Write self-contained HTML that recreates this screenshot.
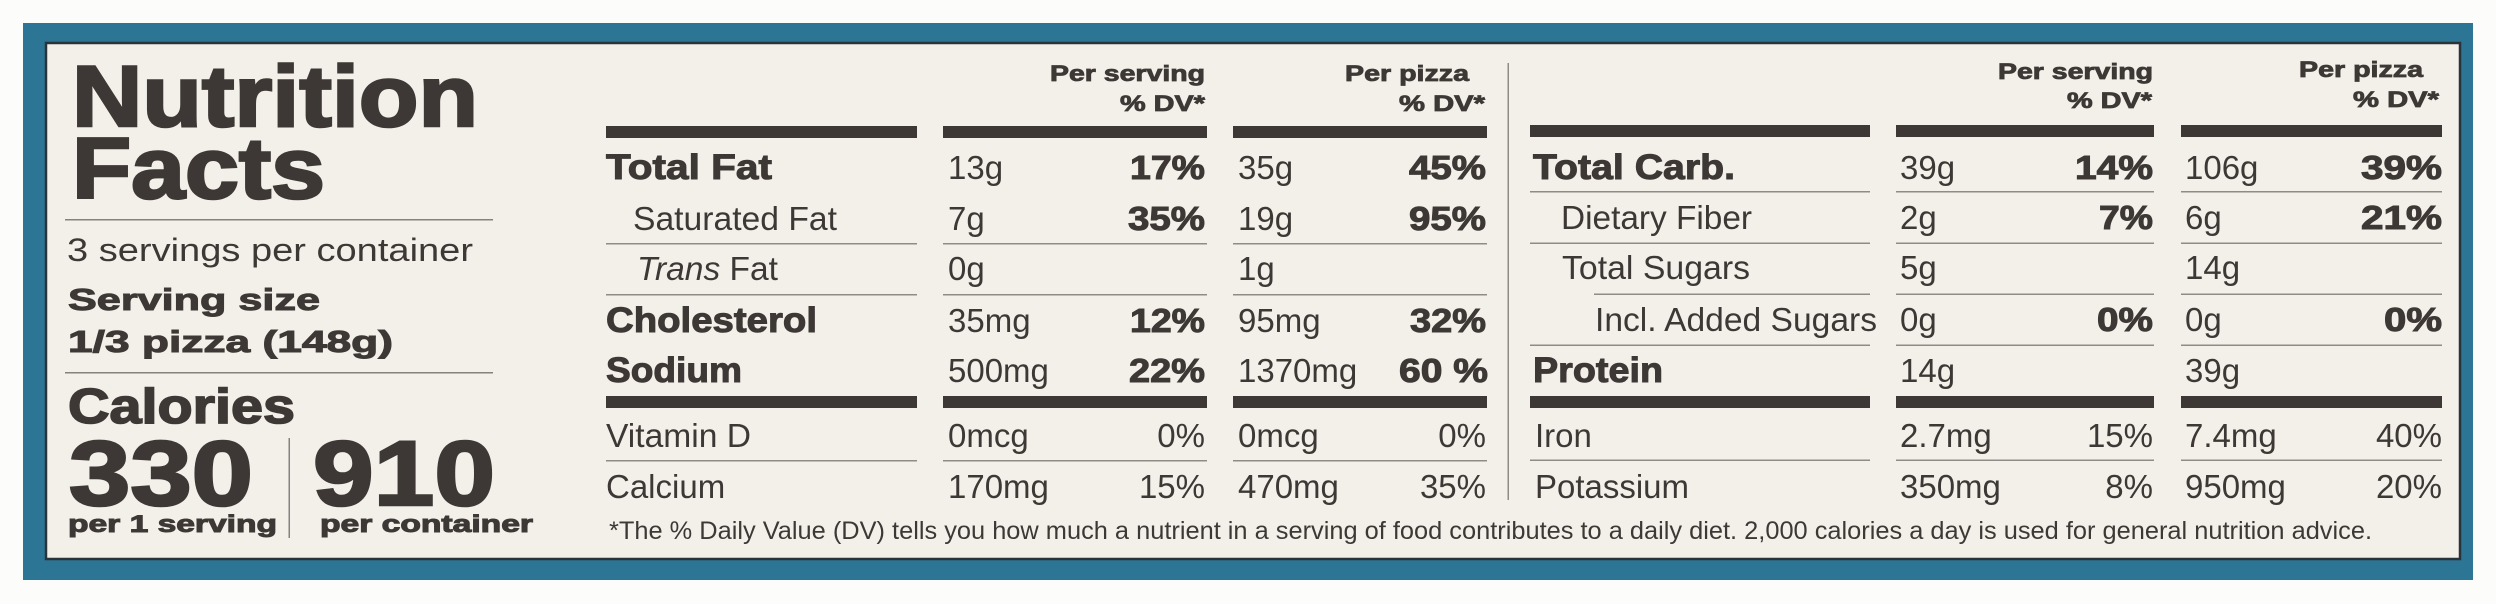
<!DOCTYPE html>
<html>
<head>
<meta charset="utf-8">
<style>
html,body{margin:0;padding:0;background:#fcfcfb;}
svg{display:block;}
text{font-family:"Liberation Sans",Arial,sans-serif;fill:#3d3835;}
.b{font-weight:bold;stroke:#3d3835;stroke-width:1;}
.bb{font-weight:bold;stroke:#3d3835;stroke-width:2.6;}
.bm{font-weight:bold;stroke:#3d3835;stroke-width:1.6;}
.r{font-size:33px;}
.v{font-size:33px;}
.p{font-size:33px;}
.h{font-size:22px;font-weight:bold;stroke:#3d3835;stroke-width:0.8;}
</style>
</head>
<body>
<svg width="2496" height="604" viewBox="0 0 2496 604" xmlns="http://www.w3.org/2000/svg">
  <rect x="0" y="0" width="2496" height="604" fill="#fcfcfb"/>
  <rect x="23" y="23" width="2450" height="557" fill="#2c7594"/>
  <rect x="46" y="43" width="2414" height="516" fill="#f3f0ea" stroke="#2a3338" stroke-width="2.5"/>

  <!-- LEFT PANEL -->
  <text class="bb" x="72" y="126" font-size="86" textLength="406" lengthAdjust="spacingAndGlyphs">Nutrition</text>
  <text class="bb" x="72" y="198" font-size="86" textLength="253" lengthAdjust="spacingAndGlyphs">Facts</text>
  <rect x="65" y="219" width="428" height="1.5" fill="#85817d"/>
  <text x="67" y="261" font-size="32" textLength="406" lengthAdjust="spacingAndGlyphs">3 servings per container</text>
  <text class="b" x="68" y="310" font-size="31" textLength="252" lengthAdjust="spacingAndGlyphs">Serving size</text>
  <text class="b" x="68" y="352" font-size="31" textLength="325" lengthAdjust="spacingAndGlyphs">1/3 pizza (148g)</text>
  <rect x="65" y="372" width="428" height="1.5" fill="#85817d"/>
  <text class="bm" x="68" y="423" font-size="49" textLength="227" lengthAdjust="spacingAndGlyphs">Calories</text>
  <text class="bb" x="69" y="505" font-size="92" textLength="184" lengthAdjust="spacingAndGlyphs">330</text>
  <text class="bb" x="313" y="505" font-size="92" textLength="182" lengthAdjust="spacingAndGlyphs">910</text>
  <rect x="288.5" y="438" width="1.5" height="100" fill="#85817d"/>
  <text class="b" x="68" y="532" font-size="24" textLength="209" lengthAdjust="spacingAndGlyphs">per 1 serving</text>
  <text class="b" x="320" y="532" font-size="24" textLength="213" lengthAdjust="spacingAndGlyphs">per container</text>

  <!-- LEFT TABLE -->
  <text class="h" x="1205" y="81" text-anchor="end" textLength="155" lengthAdjust="spacingAndGlyphs">Per serving</text>
  <text class="h" x="1205" y="111" text-anchor="end" textLength="85" lengthAdjust="spacingAndGlyphs">% DV*</text>
  <text class="h" x="1469" y="81" text-anchor="end" textLength="124" lengthAdjust="spacingAndGlyphs">Per pizza</text>
  <text class="h" x="1485" y="111" text-anchor="end" textLength="86" lengthAdjust="spacingAndGlyphs">% DV*</text>

  <rect x="606" y="126" width="311" height="12" fill="#3d3835"/>
  <rect x="943" y="126" width="264" height="12" fill="#3d3835"/>
  <rect x="1233" y="126" width="254" height="12" fill="#3d3835"/>
  <rect x="606" y="396" width="311" height="12" fill="#3d3835"/>
  <rect x="943" y="396" width="264" height="12" fill="#3d3835"/>
  <rect x="1233" y="396" width="254" height="12" fill="#3d3835"/>

  <g fill="#8f8b87">
    <rect x="606" y="243" width="311" height="1.5"/>
    <rect x="943" y="243" width="264" height="1.5"/>
    <rect x="1233" y="243" width="254" height="1.5"/>
    <rect x="606" y="294" width="311" height="1.5"/>
    <rect x="943" y="294" width="264" height="1.5"/>
    <rect x="1233" y="294" width="254" height="1.5"/>
    <rect x="606" y="460" width="311" height="1.5"/>
    <rect x="943" y="460" width="264" height="1.5"/>
    <rect x="1233" y="460" width="254" height="1.5"/>
  </g>

  <text class="b" x="606" y="179" font-size="35" textLength="166" lengthAdjust="spacingAndGlyphs">Total Fat</text>
  <text class="r" x="633" y="230" textLength="204" lengthAdjust="spacingAndGlyphs">Saturated Fat</text>
  <text class="r" x="637" y="280" textLength="141" lengthAdjust="spacingAndGlyphs"><tspan font-style="italic">Trans</tspan> Fat</text>
  <text class="b" x="606" y="332" font-size="35" textLength="211" lengthAdjust="spacingAndGlyphs">Cholesterol</text>
  <text class="b" x="606" y="382" font-size="35" textLength="136" lengthAdjust="spacingAndGlyphs">Sodium</text>
  <text class="r" x="606" y="447" textLength="145" lengthAdjust="spacingAndGlyphs">Vitamin D</text>
  <text class="r" x="606" y="498">Calcium</text>

  <text class="v" x="948" y="179">13g</text>
  <text class="v" x="948" y="230">7g</text>
  <text class="v" x="948" y="280">0g</text>
  <text class="v" x="948" y="332">35mg</text>
  <text class="v" x="948" y="382">500mg</text>
  <text class="v" x="948" y="447">0mcg</text>
  <text class="v" x="948" y="498">170mg</text>

  <text class="v" x="1238" y="179">35g</text>
  <text class="v" x="1238" y="230">19g</text>
  <text class="v" x="1238" y="280">1g</text>
  <text class="v" x="1238" y="332">95mg</text>
  <text class="v" x="1238" y="382">1370mg</text>
  <text class="v" x="1238" y="447">0mcg</text>
  <text class="v" x="1238" y="498">470mg</text>

  <text class="b" font-size="33" x="1205" y="179" text-anchor="end" textLength="75" lengthAdjust="spacingAndGlyphs">17%</text>
  <text class="b" font-size="33" x="1205" y="230" text-anchor="end" textLength="77" lengthAdjust="spacingAndGlyphs">35%</text>
  <text class="b" font-size="33" x="1205" y="332" text-anchor="end" textLength="75" lengthAdjust="spacingAndGlyphs">12%</text>
  <text class="b" font-size="33" x="1205" y="382" text-anchor="end" textLength="76" lengthAdjust="spacingAndGlyphs">22%</text>
  <text class="p" x="1205" y="447" text-anchor="end">0%</text>
  <text class="p" x="1205" y="498" text-anchor="end">15%</text>

  <text class="b" font-size="33" x="1486" y="179" text-anchor="end" textLength="77" lengthAdjust="spacingAndGlyphs">45%</text>
  <text class="b" font-size="33" x="1486" y="230" text-anchor="end" textLength="77" lengthAdjust="spacingAndGlyphs">95%</text>
  <text class="b" font-size="33" x="1486" y="332" text-anchor="end" textLength="76" lengthAdjust="spacingAndGlyphs">32%</text>
  <text class="b" font-size="33" x="1488" y="382" text-anchor="end" textLength="89" lengthAdjust="spacingAndGlyphs">60 %</text>
  <text class="p" x="1486" y="447" text-anchor="end">0%</text>
  <text class="p" x="1486" y="498" text-anchor="end">35%</text>

  <!-- DIVIDER -->
  <rect x="1507.5" y="63" width="1.5" height="437" fill="#8f8b87"/>

  <!-- RIGHT TABLE -->
  <text class="h" x="2153" y="79" text-anchor="end" textLength="155" lengthAdjust="spacingAndGlyphs">Per serving</text>
  <text class="h" x="2152" y="108" text-anchor="end" textLength="85" lengthAdjust="spacingAndGlyphs">% DV*</text>
  <text class="h" x="2423" y="77" text-anchor="end" textLength="124" lengthAdjust="spacingAndGlyphs">Per pizza</text>
  <text class="h" x="2439" y="107" text-anchor="end" textLength="86" lengthAdjust="spacingAndGlyphs">% DV*</text>

  <rect x="1530" y="125" width="340" height="12" fill="#3d3835"/>
  <rect x="1896" y="125" width="258" height="12" fill="#3d3835"/>
  <rect x="2181" y="125" width="261" height="12" fill="#3d3835"/>
  <rect x="1530" y="396" width="340" height="12" fill="#3d3835"/>
  <rect x="1896" y="396" width="258" height="12" fill="#3d3835"/>
  <rect x="2181" y="396" width="261" height="12" fill="#3d3835"/>

  <g fill="#8f8b87">
    <rect x="1530" y="191" width="340" height="1.5"/>
    <rect x="1896" y="191" width="258" height="1.5"/>
    <rect x="2181" y="191" width="261" height="1.5"/>
    <rect x="1530" y="242.5" width="340" height="1.5"/>
    <rect x="1896" y="242.5" width="258" height="1.5"/>
    <rect x="2181" y="242.5" width="261" height="1.5"/>
    <rect x="1594" y="293.5" width="276" height="1.5"/>
    <rect x="1896" y="293.5" width="258" height="1.5"/>
    <rect x="2181" y="293.5" width="261" height="1.5"/>
    <rect x="1530" y="344.5" width="340" height="1.5"/>
    <rect x="1896" y="344.5" width="258" height="1.5"/>
    <rect x="2181" y="344.5" width="261" height="1.5"/>
    <rect x="1530" y="459.5" width="340" height="1.5"/>
    <rect x="1896" y="459.5" width="258" height="1.5"/>
    <rect x="2181" y="459.5" width="261" height="1.5"/>
  </g>

  <text class="b" x="1533" y="179" font-size="35" textLength="202" lengthAdjust="spacingAndGlyphs">Total Carb.</text>
  <text class="r" x="1561" y="229" textLength="191" lengthAdjust="spacingAndGlyphs">Dietary Fiber</text>
  <text class="r" x="1562" y="279" textLength="188" lengthAdjust="spacingAndGlyphs">Total Sugars</text>
  <text class="r" x="1595" y="331" textLength="282" lengthAdjust="spacingAndGlyphs">Incl. Added Sugars</text>
  <text class="b" x="1533" y="382" font-size="35" textLength="130" lengthAdjust="spacingAndGlyphs">Protein</text>
  <text class="r" x="1535" y="447">Iron</text>
  <text class="r" x="1535" y="498" textLength="154" lengthAdjust="spacingAndGlyphs">Potassium</text>

  <text class="v" x="1900" y="179">39g</text>
  <text class="v" x="1900" y="229">2g</text>
  <text class="v" x="1900" y="279">5g</text>
  <text class="v" x="1900" y="331">0g</text>
  <text class="v" x="1900" y="382">14g</text>
  <text class="v" x="1900" y="447">2.7mg</text>
  <text class="v" x="1900" y="498">350mg</text>

  <text class="v" x="2185" y="179">106g</text>
  <text class="v" x="2185" y="229">6g</text>
  <text class="v" x="2185" y="279">14g</text>
  <text class="v" x="2185" y="331">0g</text>
  <text class="v" x="2185" y="382">39g</text>
  <text class="v" x="2185" y="447">7.4mg</text>
  <text class="v" x="2185" y="498">950mg</text>

  <text class="b" font-size="33" x="2153" y="179" text-anchor="end" textLength="78" lengthAdjust="spacingAndGlyphs">14%</text>
  <text class="b" font-size="33" x="2153" y="229" text-anchor="end" textLength="54" lengthAdjust="spacingAndGlyphs">7%</text>
  <text class="b" font-size="33" x="2153" y="331" text-anchor="end" textLength="56" lengthAdjust="spacingAndGlyphs">0%</text>
  <text class="p" x="2153" y="447" text-anchor="end">15%</text>
  <text class="p" x="2153" y="498" text-anchor="end">8%</text>

  <text class="b" font-size="33" x="2442" y="179" text-anchor="end" textLength="81" lengthAdjust="spacingAndGlyphs">39%</text>
  <text class="b" font-size="33" x="2442" y="229" text-anchor="end" textLength="81" lengthAdjust="spacingAndGlyphs">21%</text>
  <text class="b" font-size="33" x="2442" y="331" text-anchor="end" textLength="58" lengthAdjust="spacingAndGlyphs">0%</text>
  <text class="p" x="2442" y="447" text-anchor="end">40%</text>
  <text class="p" x="2442" y="498" text-anchor="end">20%</text>

  <!-- FOOTNOTE -->
  <text x="609" y="539" font-size="25" textLength="1763" lengthAdjust="spacingAndGlyphs">*The % Daily Value (DV) tells you how much a nutrient in a serving of food contributes to a daily diet. 2,000 calories a day is used for general nutrition advice.</text>
</svg>
</body>
</html>
